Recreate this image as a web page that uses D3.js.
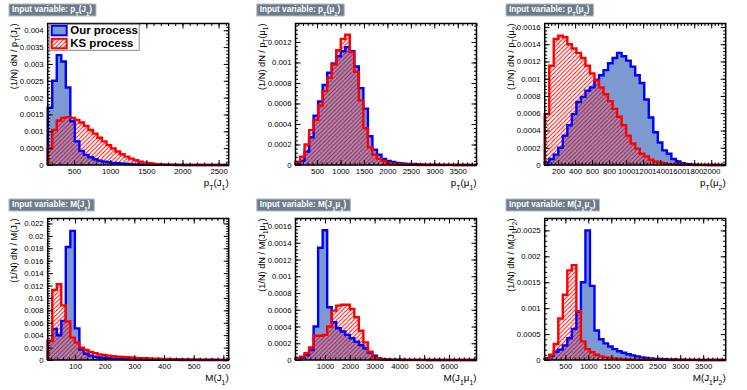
<!DOCTYPE html>
<html>
<head>
<meta charset="utf-8">
<script src="https://cdn.jsdelivr.net/npm/d3@7"></script>
<style>
  body { margin: 0; background: #fff; }
  text { font-family: "Liberation Sans", Arial, Helvetica, sans-serif; }
</style>
</head>
<body>
<svg id="chart" width="747" height="390"></svg>
<script>
// 40-bin normalised histograms

// pT(J1)
const ptJ1Range = [135, 2640]
const ptJ1YMax = 0.0042
const ptJ1XTicks = [500, 1000, 1500, 2000, 2500]
const ptJ1YTicks = [0, 0.0005, 0.001, 0.0015, 0.002, 0.0025, 0.003, 0.0035, 0.004]
const ptJ1Our = [0.0017, 0.0025, 0.00326, 0.00307, 0.0023, 0.0013, 0.0007, 0.00042, 0.0003, 0.00023,
  0.00017, 0.00013, 0.0001, 0.00008, 0.00006, 0.00005, 0.00004, 0.00003, 0.00002, 0.00002,
  0.000015, 0.00001, 0.00001, 0.000008, 0.000006, 0.000005, 0.000004, 0.000003, 0.000002, 0.000002,
  0.000001, 0.000001, 0.000001, 0, 0, 0, 0, 0, 0, 0]
const ptJ1KS = [0.0005, 0.00104, 0.00132, 0.0014, 0.00142, 0.0014, 0.00134, 0.00126, 0.00116, 0.00104,
  0.00093, 0.00081, 0.0007, 0.00059, 0.00049, 0.0004, 0.00032, 0.00025, 0.00019, 0.00014,
  0.0001, 0.00007, 0.00005, 0.00003, 0.00002, 0.000015, 0.00001, 0.000007, 0.000005, 0.000003,
  0.000002, 0.000001, 0, 0, 0, 0, 0, 0, 0, 0]

// pT(mu1)
const ptMu1Range = [40, 3900]
const ptMu1YMax = 0.00138
const ptMu1XTicks = [500, 1000, 1500, 2000, 2500, 3000, 3500]
const ptMu1YTicks = [0, 0.0002, 0.0004, 0.0006, 0.0008, 0.001, 0.0012]
const ptMu1Our = [0.00001, 0.00004, 0.00013, 0.00027, 0.00048, 0.00062, 0.00078, 0.0009, 0.00099, 0.00106,
  0.00111, 0.00115, 0.00111, 0.00096, 0.00075, 0.00055, 0.00028, 0.00015, 0.0001, 0.00006,
  0.00004, 0.00003, 0.00002, 0.000015, 0.00001, 0.00001, 0.000007, 0.000005, 0.000004, 0.000003,
  0.000002, 0.000002, 0.000001, 0.000001, 0.000001, 0, 0, 0, 0, 0]
const ptMu1KS = [0.00003, 0.00008, 0.0002, 0.00034, 0.00044, 0.00058, 0.00072, 0.00085, 0.00098, 0.00112,
  0.00123, 0.00127, 0.0011, 0.00091, 0.00063, 0.00036, 0.00017, 0.0001, 0.00006, 0.00004,
  0.00002, 0.00001, 0.000008, 0.000005, 0.000003, 0.000002, 0.000001, 0, 0, 0,
  0, 0, 0, 0, 0, 0, 0, 0, 0, 0]

// pT(mu2)
const ptMu2Range = [43, 2170]
const ptMu2YMax = 0.00164
const ptMu2XTicks = [200, 400, 600, 800, 1000, 1200, 1400, 1600, 1800, 2000]
const ptMu2YTicks = [0, 0.0002, 0.0004, 0.0006, 0.0008, 0.001, 0.0012, 0.0014, 0.0016]
const ptMu2Our = [0.00003, 0.00007, 0.00012, 0.0002, 0.00034, 0.00046, 0.00059, 0.00073, 0.00079, 0.00086,
  0.0009, 0.00099, 0.00104, 0.0011, 0.00118, 0.00124, 0.0013, 0.00126, 0.00121, 0.00114,
  0.00104, 0.00095, 0.00076, 0.00055, 0.00038, 0.00026, 0.00017, 0.00013, 0.00007, 0.00004,
  0.00002, 0.00001, 0.000005, 0.000003, 0.000002, 0.000001, 0, 0, 0, 0]
const ptMu2KS = [0.00059, 0.00115, 0.00146, 0.0015, 0.00148, 0.0014, 0.00135, 0.0013, 0.00124, 0.00115,
  0.00106, 0.00098, 0.0009, 0.00082, 0.00074, 0.00065, 0.00056, 0.00046, 0.00034, 0.00025,
  0.00019, 0.00013, 0.0001, 0.00006, 0.00004, 0.00003, 0.00002, 0.00001, 0.00001, 0.000005,
  0.000003, 0.000002, 0.000001, 0, 0, 0, 0, 0, 0, 0]

// M(J1)
const mJ1Range = [8, 618]
const mJ1YMax = 0.0228
const mJ1XTicks = [100, 200, 300, 400, 500, 600]
const mJ1YTicks = [0, 0.002, 0.004, 0.006, 0.008, 0.01, 0.012, 0.014, 0.016, 0.018, 0.02, 0.022]
const mJ1Our = [0.0031, 0.005, 0.004, 0.0063, 0.0182, 0.0208, 0.0051, 0.0017, 0.001, 0.0007,
  0.0005, 0.0004, 0.0003, 0.00027, 0.00022, 0.00018, 0.00015, 0.00012, 0.0001, 0.00008,
  0.00007, 0.00006, 0.00005, 0.00004, 0.00003, 0.00003, 0.00002, 0.00002, 0.00002, 0.00001,
  0.00001, 0.00001, 0.00001, 0.000005, 0.000005, 0.000005, 0, 0, 0, 0]
const mJ1KS = [0.003, 0.0113, 0.0122, 0.0088, 0.0062, 0.0036, 0.0028, 0.002, 0.0016, 0.0013,
  0.0011, 0.0009, 0.0008, 0.0007, 0.0006, 0.00055, 0.0005, 0.00045, 0.0004, 0.00035,
  0.0003, 0.00028, 0.00025, 0.00022, 0.0002, 0.00018, 0.00016, 0.00014, 0.00012, 0.0001,
  0.00009, 0.00008, 0.00007, 0.00006, 0.00005, 0.00004, 0.00003, 0.00002, 0.00002, 0.00001]

// M(J1 mu1)
const mJ1Mu1Range = [-190, 7110]
const mJ1Mu1YMax = 0.00169
const mJ1Mu1XTicks = [1000, 2000, 3000, 4000, 5000, 6000]
const mJ1Mu1YTicks = [0, 0.0002, 0.0004, 0.0006, 0.0008, 0.001, 0.0012, 0.0014, 0.0016]
const mJ1Mu1Our = [0.00002, 0.00003, 0.00006, 0.00012, 0.0004, 0.00134, 0.00155, 0.00063, 0.00045, 0.00038,
  0.00034, 0.0003, 0.00026, 0.00022, 0.00018, 0.00014, 0.00009, 0.00005, 0.00002, 0.00001,
  0.000007, 0.000005, 0.000004, 0.000003, 0.000002, 0.000002, 0.000001, 0.000001, 0.000001, 0,
  0, 0, 0, 0, 0, 0, 0, 0, 0, 0]
const mJ1Mu1KS = [0.00001, 0.00004, 0.00008, 0.00015, 0.00029, 0.00029, 0.0003, 0.0004, 0.00059, 0.00065,
  0.00066, 0.00066, 0.00061, 0.00051, 0.00035, 0.00021, 0.0001, 0.00003, 0.00001, 0.000005,
  0.000003, 0.000002, 0.000001, 0, 0, 0, 0, 0, 0, 0,
  0, 0, 0, 0, 0, 0, 0, 0, 0, 0]

// M(J1 mu2)
const mJ1Mu2Range = [50, 3990]
const mJ1Mu2YMax = 0.00273
const mJ1Mu2XTicks = [500, 1000, 1500, 2000, 2500, 3000, 3500]
const mJ1Mu2YTicks = [0, 0.0005, 0.001, 0.0015, 0.002, 0.0025]
const mJ1Mu2Our = [0.00003, 0.00008, 0.00016, 0.0002, 0.00028, 0.00042, 0.0006, 0.00093, 0.0015, 0.0025,
  0.00143, 0.00057, 0.0004, 0.00032, 0.00026, 0.00021, 0.00017, 0.00014, 0.00011, 0.00009,
  0.00007, 0.00005, 0.00004, 0.00003, 0.00002, 0.00002, 0.000015, 0.00001, 0.00001, 0.000005,
  0.000005, 0.000003, 0.000002, 0.000002, 0.000001, 0, 0, 0, 0, 0]
const mJ1Mu2KS = [0.00002, 0.0001, 0.00031, 0.0008, 0.00126, 0.00173, 0.00183, 0.00094, 0.00036, 0.00021,
  0.00015, 0.0001, 0.00007, 0.00005, 0.00004, 0.00003, 0.00002, 0.00002, 0.00001, 0.00001,
  0.000008, 0.000006, 0.000005, 0.000004, 0.000003, 0.000002, 0.000002, 0.000001, 0.000001, 0,
  0, 0, 0, 0, 0, 0, 0, 0, 0, 0]

const seriesNames = ['Our process', 'KS process']

const panels = [
  {range: ptJ1Range, yMax: ptJ1YMax, xTicks: ptJ1XTicks, yTicks: ptJ1YTicks, our: ptJ1Our, ks: ptJ1KS,
   label: ['p', '_T', '(J', '_1', ')'], col: 0, row: 0, legend: true},
  {range: ptMu1Range, yMax: ptMu1YMax, xTicks: ptMu1XTicks, yTicks: ptMu1YTicks, our: ptMu1Our, ks: ptMu1KS,
   label: ['p', '_T', '(\u03bc', '_1', ')'], col: 1, row: 0},
  {range: ptMu2Range, yMax: ptMu2YMax, xTicks: ptMu2XTicks, yTicks: ptMu2YTicks, our: ptMu2Our, ks: ptMu2KS,
   label: ['p', '_T', '(\u03bc', '_2', ')'], col: 2, row: 0},
  {range: mJ1Range, yMax: mJ1YMax, xTicks: mJ1XTicks, yTicks: mJ1YTicks, our: mJ1Our, ks: mJ1KS,
   label: ['M(J', '_1', ')'], col: 0, row: 1},
  {range: mJ1Mu1Range, yMax: mJ1Mu1YMax, xTicks: mJ1Mu1XTicks, yTicks: mJ1Mu1YTicks, our: mJ1Mu1Our, ks: mJ1Mu1KS,
   label: ['M(J', '_1', '\u03bc', '_1', ')'], col: 1, row: 1},
  {range: mJ1Mu2Range, yMax: mJ1Mu2YMax, xTicks: mJ1Mu2XTicks, yTicks: mJ1Mu2YTicks, our: mJ1Mu2Our, ks: mJ1Mu2KS,
   label: ['M(J', '_1', '\u03bc', '_2', ')'], col: 2, row: 1}
]

const colLeft = [47.7, 295.5, 544.7]
const rowTop = [23.5, 218.5]
const W = 181, H = 141.5
const blueLine = '#0000ff', blueFill = '#7d99d1', red = '#ff0000'

const svg = d3.select('#chart')
const defs = svg.append('defs')
defs.append('pattern').attr('id', 'hatch').attr('patternUnits', 'userSpaceOnUse')
    .attr('width', 4.2).attr('height', 4.2)
  .append('path').attr('d', 'M-1,1L1,-1M0,4.2L4.2,0M3.2,5.2L5.2,3.2')
    .attr('stroke', red).attr('stroke-width', 1)

// text with ROOT-like subscripts; parts starting with '_' are subscripts
function rich(sel, parts, size) {
  let low = false
  parts.forEach(part => {
    const isSub = part.startsWith('_')
    const t = sel.append('tspan').text(isSub ? part.slice(1) : part)
    if (isSub) t.attr('font-size', size * 0.7)
    if (isSub !== low) { t.attr('dy', (isSub ? 1 : -1) * size * 0.4); low = isSub }
  })
  return sel
}

function minorTicks(domain, majors) {
  const step = (majors[1] - majors[0]) / 5
  const start = Math.ceil(domain[0] / step)
  const out = []
  for (let i = start; i * step <= domain[1]; i++) out.push(+(i * step).toPrecision(10))
  return out
}

const fmt = d3.format('~g')

function styleAxis(g, fontSize) {
  g.select('.domain').remove()
  g.selectAll('line').attr('stroke', '#000').attr('stroke-width', 1)
  g.selectAll('text').attr('font-size', fontSize).attr('fill', '#000').attr('font-family', null)
}

function histPoints(vals, edges) {
  const pts = [[edges[0], 0]]
  vals.forEach((v, i) => pts.push([edges[i], v]))
  pts.push([edges[vals.length], vals[vals.length - 1]])
  pts.push([edges[vals.length], 0])
  return pts
}

panels.forEach(p => {
  const left = colLeft[p.col], top = rowTop[p.row]
  const g = svg.append('g').attr('transform', `translate(${left},${top})`)
  const x = d3.scaleLinear().domain(p.range).range([0, W])
  const y = d3.scaleLinear().domain([0, p.yMax]).range([H, 0])
  const n = p.our.length
  const edges = d3.range(n + 1).map(i => p.range[0] + i * (p.range[1] - p.range[0]) / n)

  const area = d3.area().x(d => x(d[0])).y0(y(0)).y1(d => y(d[1])).curve(d3.curveStepAfter)
  const line = d3.line().x(d => x(d[0])).y(d => y(d[1])).curve(d3.curveStepAfter)
  const ourPts = histPoints(p.our, edges)
  const ksPts = histPoints(p.ks, edges)

  g.append('path').attr('d', area(ourPts)).attr('fill', blueFill)
  g.append('path').attr('d', area(ksPts)).attr('fill', 'url(#hatch)')
  g.append('path').attr('d', line(ourPts)).attr('fill', 'none').attr('stroke', blueLine).attr('stroke-width', 2.4)
  g.append('path').attr('d', line(ksPts)).attr('fill', 'none').attr('stroke', red).attr('stroke-width', 2.4)

  // axes with ticks on all four sides, ROOT style
  const xMin = minorTicks(x.domain(), p.xTicks)
  const yMin = minorTicks(y.domain(), p.yTicks)
  const bottom = g.append('g').attr('transform', `translate(0,${H})`)
  bottom.append('g').call(d3.axisBottom(x).tickValues(xMin).tickSize(-2.5).tickFormat(''))
  bottom.append('g').call(d3.axisBottom(x).tickValues(p.xTicks).tickSize(-5).tickPadding(3).tickFormat(fmt))
  g.append('g').call(d3.axisTop(x).tickValues(xMin).tickSize(-2.5).tickFormat(''))
  g.append('g').call(d3.axisTop(x).tickValues(p.xTicks).tickSize(-5).tickFormat(''))
  g.append('g').call(d3.axisLeft(y).tickValues(yMin).tickSize(-2.5).tickFormat(''))
  g.append('g').call(d3.axisLeft(y).tickValues(p.yTicks).tickSize(-5).tickPadding(4).tickFormat(fmt))
  const right = g.append('g').attr('transform', `translate(${W},0)`)
  right.append('g').call(d3.axisRight(y).tickValues(yMin).tickSize(-2.5).tickFormat(''))
  right.append('g').call(d3.axisRight(y).tickValues(p.yTicks).tickSize(-5).tickFormat(''))
  g.selectAll('g').each(function () { styleAxis(d3.select(this), 7.8) })

  g.append('rect').attr('width', W).attr('height', H)
    .attr('fill', 'none').attr('stroke', '#000').attr('stroke-width', 1.5)

  // axis titles
  rich(g.append('text').attr('x', W).attr('y', H + 21).attr('text-anchor', 'end')
    .attr('font-size', 9.8), p.label, 9.8)
  rich(g.append('text').attr('transform', `translate(-31,0)rotate(-90)`).attr('text-anchor', 'end')
    .attr('font-size', 9.2), ['(1/N) dN / '].concat(p.label), 9.2)

  // title box
  const tg = svg.append('g').attr('transform', `translate(${left - 38.7},${top - 19.5})`)
  const box = tg.append('rect').attr('height', 12).attr('fill', '#6e7b8b')
    .attr('stroke', '#b4bcc6').attr('stroke-width', 1)
  const tt = rich(tg.append('text').attr('x', 3).attr('y', 8.4).attr('font-size', 8.2)
    .attr('font-weight', 'bold').attr('fill', '#fff'), ['Input variable: '].concat(p.label), 8.2)
  box.attr('width', tt.node().getComputedTextLength() + 7)

  if (p.legend) {
    const lg = g.append('g').attr('transform', 'translate(1.5,0.8)')
    lg.append('rect').attr('width', 90).attr('height', 26).attr('fill', '#fff')
      .attr('stroke', '#888').attr('stroke-width', 1)
    const fills = [blueFill, 'url(#hatch)'], lines = [blueLine, red]
    seriesNames.forEach((s, i) => {
      lg.append('rect').attr('x', 2.5).attr('y', 1.5 + i * 13).attr('width', 15).attr('height', 9.5)
        .attr('fill', fills[i]).attr('stroke', lines[i]).attr('stroke-width', 2)
      lg.append('text').attr('x', 21).attr('y', 10 + i * 12.8).attr('font-size', 11.5)
        .attr('font-weight', 'bold').text(s)
    })
  }
})
</script>
</body>
</html>
